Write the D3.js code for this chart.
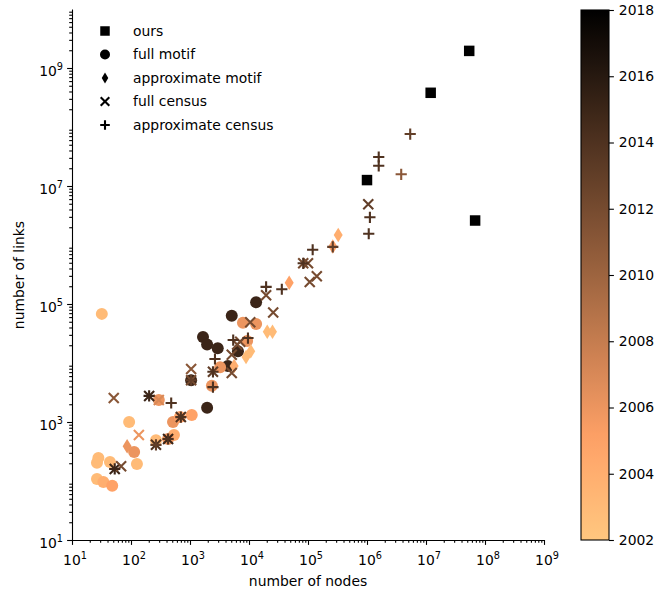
<!DOCTYPE html>
<html lang="en">
<head>
    <style>
        body { margin: 0; background: #fff; }
        svg { font-family: "DejaVu Sans", sans-serif; }
        .axis path, .axis line { stroke: #000; stroke-width: 1.1; }
    </style>
    <script src="https://d3js.org/d3.v7.min.js"></script>
</head>
<body>
    <svg width="659" height="591"></svg>
    <script>
        // data (nodes, links, publication year)
        var oursNodes = [1.0e6, 1.2e7, 5.4e7, 6.8e7];
        var oursLinks = [1.26e7, 3.8e8, 1.95e9, 2.6e6];
        var oursYears = [2018, 2018, 2018, 2018];

        var fullMotifNodes = [32, 5100, 1660, 1950, 2950, 4380, 6500, 13200, 1950, 7900, 13200, 3240, 2350, 1070, 515, 535, 425, 265, 296, 93, 113, 126, 28, 26.5, 44, 26.5, 34, 48, 675, 9300, 1045];
        var fullMotifLinks = [68000, 63000, 27500, 20500, 17800, 8900, 15800, 107000, 1740, 48000, 46000, 8500, 4100, 1320, 1000, 600, 515, 490, 2350, 1000, 310, 195, 245, 203, 210, 108, 96, 83, 1210, 23500, 5100];
        var fullMotifYears = [2003, 2015, 2015, 2015, 2015, 2015, 2015, 2015, 2015, 2006, 2006, 2006, 2006, 2005, 2006, 2004, 2006, 2003, 2006, 2003, 2006, 2003, 2003, 2003, 2003, 2003, 2004, 2005, 2005, 2006, 2015];

        var approxMotifNodes = [48000, 325000, 263000, 20400, 25000, 8900, 10700, 86, 5600];
        var approxMotifLinks = [230000, 1.48e6, 940000, 34000, 34000, 12600, 15800, 390, 8900];
        var approxMotifYears = [2005, 2004, 2005, 2003, 2003, 2003, 2003, 2006, 2004];

        var fullCensusNodes = [1.05e6, 83000, 100000, 107000, 141000, 19500, 25700, 10500, 7100, 5100, 5100, 1045, 1045, 2450, 51, 203, 296, 136, 53, 68, 265, 425, 700, 6300];
        var fullCensusLinks = [4.9e6, 490000, 490000, 235000, 295000, 141000, 72000, 49000, 23000, 13800, 6750, 7900, 5100, 7100, 2560, 2770, 2350, 600, 160, 178, 410, 515, 1210, 20500];
        var fullCensusYears = [2013, 2012, 2012, 2012, 2012, 2012, 2012, 2012, 2012, 2012, 2012, 2011, 2012, 2013, 2011, 2015, 2007, 2006, 2015, 2012, 2014, 2015, 2014, 2012];

        var approxCensusNodes = [5.4e6, 1.58e6, 1.58e6, 3.8e6, 1.12e6, 1.07e6, 120000, 263000, 83000, 19500, 36000, 5400, 9600, 2650, 2450, 2450, 1045, 480, 203, 700, 265, 425, 53];
        var approxCensusLinks = [7.6e7, 3.1e7, 2.2e7, 1.58e7, 2.95e6, 1.55e6, 830000, 930000, 490000, 195000, 178000, 24500, 26500, 11700, 7100, 3900, 5100, 2100, 2770, 1210, 410, 515, 160];
        var approxCensusYears = [2013, 2014, 2014, 2011, 2014, 2014, 2014, 2013, 2014, 2014, 2014, 2014, 2014, 2014, 2014, 2014, 2013, 2014, 2015, 2014, 2013, 2014, 2015];

        var legendLabels = ["ours", "full motif", "approximate motif", "full census", "approximate census"];
        var xTickExps = [1, 2, 3, 4, 5, 6, 7, 8, 9];
        var yTickExps = [1, 3, 5, 7, 9];
        var yearTicks = [2002, 2004, 2006, 2008, 2010, 2012, 2014, 2016, 2018];

        var svg = d3.select("svg");
        var fs = 13.9;

        var x = d3.scaleLog().domain([1e1, 1e9]).range([72, 544]);
        var y = d3.scaleLog().domain([1e1, 1e10]).range([540, 9]);
        var yearScale = d3.scaleLinear().domain([2002, 2018]).range([0, 1]);

        // matplotlib copper_r
        function copperR(t) {
            var v = 1 - t;
            var r = Math.min(1, v / 0.809524), g = 0.7812 * v, b = 0.4975 * v;
            return d3.rgb(r * 255, g * 255, b * 255).formatHex();
        }
        function colorOf(year) { return copperR(yearScale(year)); }

        function zip(nodes, links, years) {
            return nodes.map(function(n, i) { return { n: n, l: links[i], yr: years[i] }; });
        }

        // marker path builders
        function circlePath(r) { return d3.symbol(d3.symbolCircle, Math.PI * r * r)(); }
        function squarePath(s) { return "M" + (-s / 2) + "," + (-s / 2) + "h" + s + "v" + s + "h" + (-s) + "Z"; }
        function diamondPath(w, h) { return "M0," + (-h / 2) + "L" + (w / 2) + ",0L0," + (h / 2) + "L" + (-w / 2) + ",0Z"; }
        function xPath(a) { return "M" + (-a) + "," + (-a) + "L" + a + "," + a + "M" + (-a) + "," + a + "L" + a + "," + (-a); }
        function plusPath(a) { return "M" + (-a) + ",0H" + a + "M0," + (-a) + "V" + a; }

        var series = [
            { data: zip(fullMotifNodes, fullMotifLinks, fullMotifYears), path: circlePath(6), fill: true },
            { data: zip(approxMotifNodes, approxMotifLinks, approxMotifYears), path: diamondPath(9, 14.5), fill: true },
            { data: zip(fullCensusNodes, fullCensusLinks, fullCensusYears), path: xPath(5), fill: false },
            { data: zip(approxCensusNodes, approxCensusLinks, approxCensusYears), path: plusPath(5.6), fill: false },
            { data: zip(oursNodes, oursLinks, oursYears), path: squarePath(10.5), fill: true }
        ];

        // axes
        function minorTicks(lo, hi) {
            var t = [];
            for (var k = lo; k < hi; k++) for (var m = 2; m <= 9; m++) t.push(m * Math.pow(10, k));
            return t;
        }

        var gx = svg.append("g").attr("class", "axis").attr("transform", "translate(0,540)");
        gx.call(d3.axisBottom(x).tickValues(xTickExps.map(function(e) { return Math.pow(10, e); })).tickSize(4.9).tickFormat("").tickSizeOuter(0));
        gx.append("g").call(d3.axisBottom(x).tickValues(minorTicks(1, 9)).tickSize(2.8).tickFormat("").tickSizeOuter(0))
            .select(".domain").remove();

        var gy = svg.append("g").attr("class", "axis").attr("transform", "translate(72,0)");
        gy.call(d3.axisLeft(y).tickValues(yTickExps.map(function(e) { return Math.pow(10, e); })).tickSize(4.9).tickFormat("").tickSizeOuter(0));
        gy.append("g").call(d3.axisLeft(y).tickValues(minorTicks(1, 10)).tickSize(2.8).tickFormat("").tickSizeOuter(0))
            .select(".domain").remove();

        function powLabel(g, xp, yp, exp, anchor) {
            var t = g.append("text").attr("x", xp).attr("y", yp).attr("text-anchor", anchor)
                .attr("font-size", fs).attr("fill", "#000");
            t.append("tspan").text("10");
            t.append("tspan").attr("font-size", fs * 0.7).attr("dy", -fs * 0.42).text(exp);
        }
        xTickExps.forEach(function(e) { powLabel(svg, x(Math.pow(10, e)) + 3, 565, e, "middle"); });
        yTickExps.forEach(function(e) { powLabel(svg, 63, y(Math.pow(10, e)) + 7.5, e, "end"); });

        svg.append("text").attr("x", 308).attr("y", 586).attr("text-anchor", "middle")
            .attr("font-size", fs).text("number of nodes");
        svg.append("text").attr("transform", "translate(24,275) rotate(-90)").attr("text-anchor", "middle")
            .attr("font-size", fs).text("number of links");

        // marks
        var plot = svg.append("g");
        series.forEach(function(s) {
            plot.selectAll(null).data(s.data).enter().append("path")
                .attr("d", s.path)
                .attr("transform", function(d) { return "translate(" + x(d.n) + "," + y(d.l) + ")"; })
                .attr("fill", function(d) { return s.fill ? colorOf(d.yr) : "none"; })
                .attr("stroke", function(d) { return s.fill ? "none" : colorOf(d.yr); })
                .attr("stroke-width", 2.1);
        });

        // legend
        var legendPaths = [squarePath(9.5), circlePath(5), diamondPath(6.5, 11), xPath(4.3), plusPath(4.8)];
        var legendFill = [true, true, true, false, false];
        legendLabels.forEach(function(lab, i) {
            var ly = 31 + i * 23.5;
            svg.append("path").attr("d", legendPaths[i]).attr("transform", "translate(105," + ly + ")")
                .attr("fill", legendFill[i] ? "#000" : "none").attr("stroke", legendFill[i] ? "none" : "#000")
                .attr("stroke-width", 2.1);
            svg.append("text").attr("x", 133).attr("y", ly).attr("dy", "0.35em")
                .attr("font-size", fs).text(lab);
        });

        // colorbar
        var cbX = 581, cbW = 28;
        var cy = d3.scaleLinear().domain([2002, 2018]).range([540, 10]);
        var grad = svg.append("defs").append("linearGradient").attr("id", "cb")
            .attr("x1", 0).attr("y1", 1).attr("x2", 0).attr("y2", 0);
        d3.range(0, 1.0001, 0.05).forEach(function(t) {
            grad.append("stop").attr("offset", t).attr("stop-color", copperR(t));
        });
        svg.append("rect").attr("x", cbX).attr("y", 10).attr("width", cbW).attr("height", 530)
            .attr("fill", "url(#cb)").attr("stroke", "#000").attr("stroke-width", 1.1);
        var gc = svg.append("g").attr("class", "axis").attr("transform", "translate(" + (cbX + cbW) + ",0)");
        gc.call(d3.axisRight(cy).tickValues(yearTicks).tickSize(4.9).tickPadding(4.9).tickFormat(d3.format("d")).tickSizeOuter(0));
        gc.select(".domain").remove();
        gc.selectAll("text").attr("font-size", fs).attr("font-family", "DejaVu Sans");
    </script>
</body>
</html>
